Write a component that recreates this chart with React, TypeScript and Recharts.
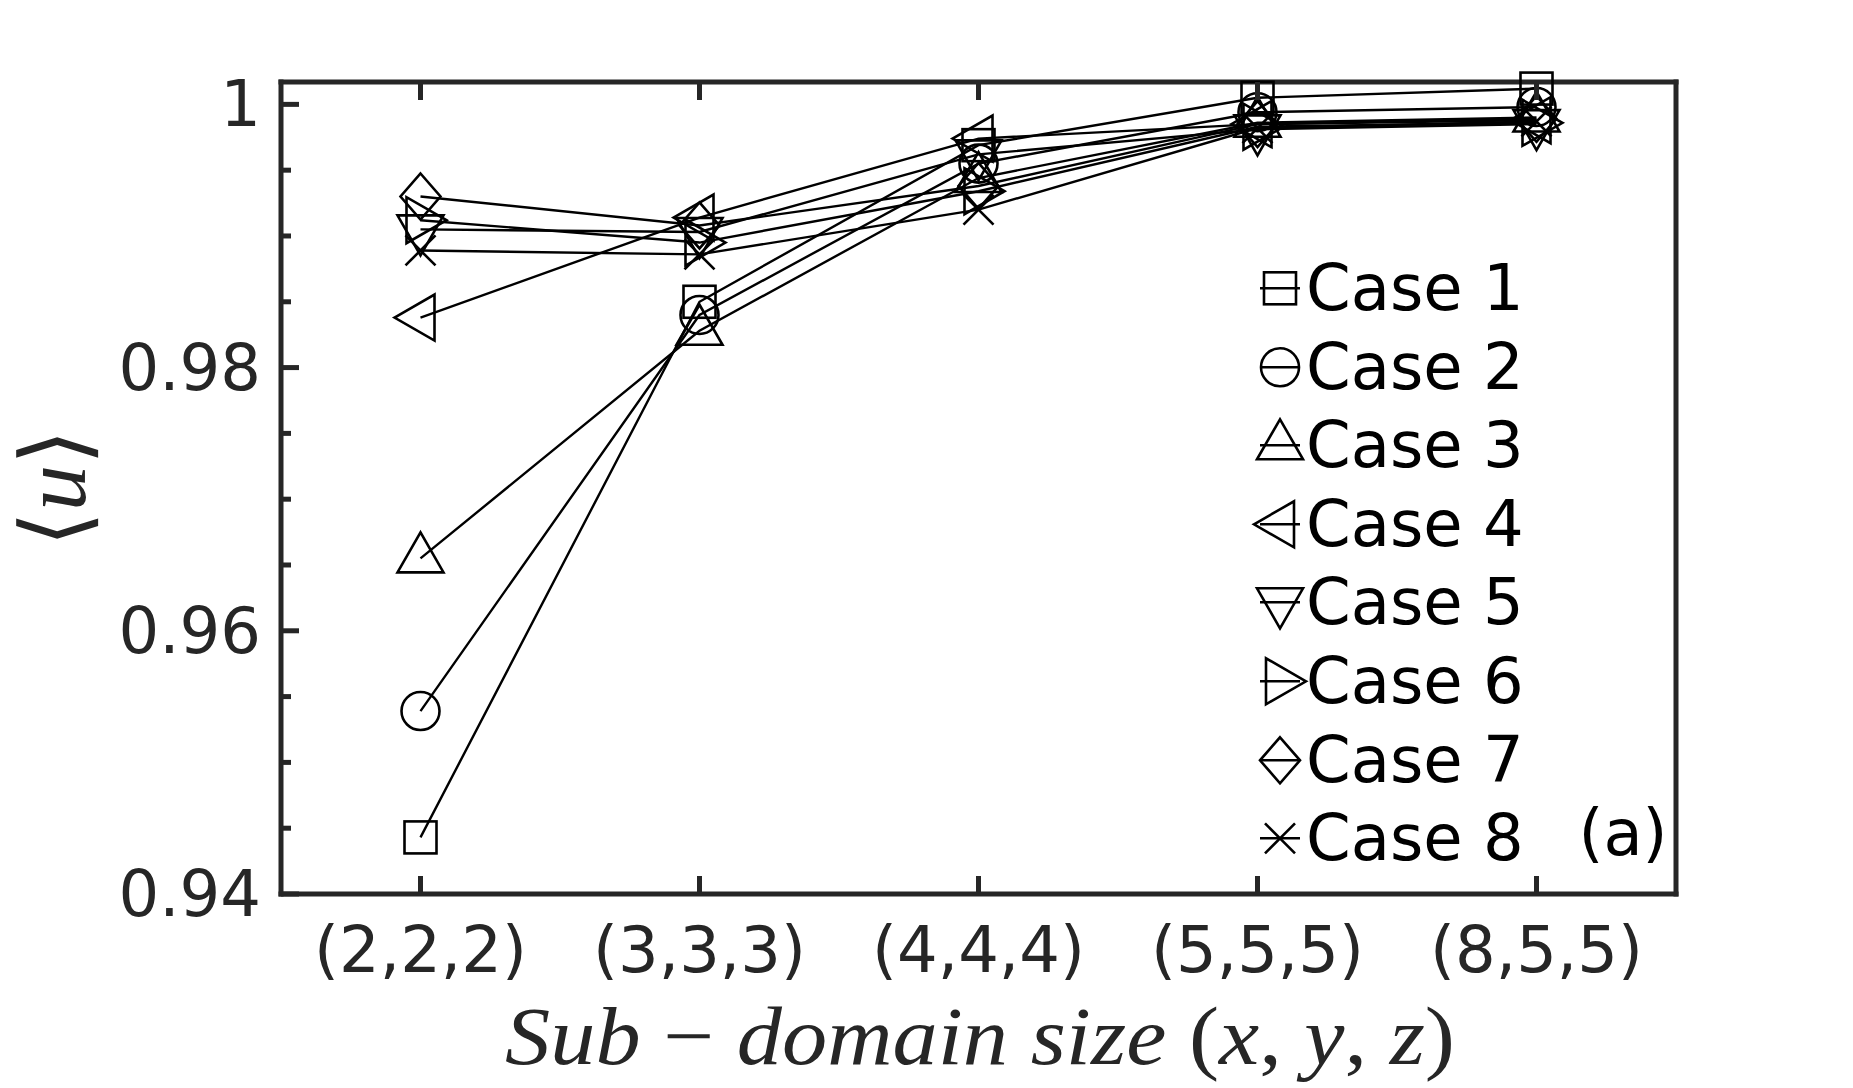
import React from 'react';
import { LineChart, Line, XAxis, YAxis, Legend } from 'recharts';

// sub-domain sizes on the x axis
const sizes = ['(2,2,2)', '(3,3,3)', '(4,4,4)', '(5,5,5)', '(8,5,5)'];

// <u> for each case
const case1 = [0.9443, 0.985, 0.9969, 1.0005, 1.0012];
const case2 = [0.9539, 0.984, 0.9955, 0.9994, 0.9998];
const case3 = [0.9655, 0.9828, 0.9944, 0.9986, 0.999];
const case4 = [0.9838, 0.9914, 0.9974, 0.9985, 0.9988];
const case5 = [0.9905, 0.9903, 0.9962, 0.9981, 0.9985];
const case6 = [0.9912, 0.9895, 0.9934, 0.9983, 0.9986];
const case7 = [0.993, 0.9908, 0.9938, 0.9985, 0.9989];
const case8 = [0.9889, 0.9886, 0.992, 0.9982, 0.9987];

const yTicks = [0.94, 0.945, 0.95, 0.955, 0.96, 0.965, 0.97, 0.975, 0.98, 0.985, 0.99, 0.995, 1.0];
const yMajor = [0.94, 0.96, 0.98, 1.0];

const series = [
  { key: 'c1', name: 'Case 1', values: case1, shape: 'square' },
  { key: 'c2', name: 'Case 2', values: case2, shape: 'circle' },
  { key: 'c3', name: 'Case 3', values: case3, shape: 'up' },
  { key: 'c4', name: 'Case 4', values: case4, shape: 'left' },
  { key: 'c5', name: 'Case 5', values: case5, shape: 'down' },
  { key: 'c6', name: 'Case 6', values: case6, shape: 'right' },
  { key: 'c7', name: 'Case 7', values: case7, shape: 'diamond' },
  { key: 'c8', name: 'Case 8', values: case8, shape: 'x' },
];

const data = sizes.map((size, i) => {
  const row: any = { size };
  series.forEach((s) => (row[s.key] = s.values[i]));
  return row;
});

const AXIS = '#262626';
const FONT = "'DejaVu Sans', sans-serif";
const axisLine = { stroke: AXIS, strokeWidth: 5, strokeLinecap: 'square' as const };

const isMajor = (v: number) => yMajor.some((m) => Math.abs(m - v) < 1e-9);
const fmt = (v: number) => (Math.abs(v - 1) < 1e-9 ? '1' : v.toFixed(2));

function Marker({ shape, cx, cy }: { shape: string; cx: number; cy: number }) {
  const s = { fill: 'none', stroke: '#000', strokeWidth: 2.6 };
  const pts = (p: number[][]) => p.map((q) => `${cx + q[0]},${cy + q[1]}`).join(' ');
  switch (shape) {
    case 'square':
      return <rect x={cx - 16} y={cy - 16} width={32} height={32} {...s} />;
    case 'circle':
      return <circle cx={cx} cy={cy} r={19} {...s} />;
    case 'up':
      return <polygon points={pts([[0, -26], [-23, 14], [23, 14]])} {...s} />;
    case 'down':
      return <polygon points={pts([[0, 26], [-23, -14], [23, -14]])} {...s} />;
    case 'left':
      return <polygon points={pts([[-26, 0], [14, -23], [14, 23]])} {...s} />;
    case 'right':
      return <polygon points={pts([[26, 0], [-14, -23], [-14, 23]])} {...s} />;
    case 'diamond':
      return <polygon points={pts([[0, -23], [20, 0], [0, 23], [-20, 0]])} {...s} />;
    default:
      return (
        <g {...s}>
          <line x1={cx - 15} y1={cy - 15} x2={cx + 15} y2={cy + 15} />
          <line x1={cx - 15} y1={cy + 15} x2={cx + 15} y2={cy - 15} />
        </g>
      );
  }
}

const LeftTick = (p: any) => {
  const v = p.payload.value;
  const major = isMajor(v);
  return (
    <g>
      <line x1={p.x} x2={p.x + (major ? 18 : 10)} y1={p.y} y2={p.y} stroke={AXIS} strokeWidth={5} />
      {major && (
        <text x={p.x - 20} y={p.y} textAnchor="end" dominantBaseline="central" fontFamily={FONT} fontSize={64} fill={AXIS}>
          {fmt(v)}
        </text>
      )}
    </g>
  );
};

const RightTick = (p: any) => {
  const major = isMajor(p.payload.value);
  return <line x1={p.x} x2={p.x - (major ? 18 : 10)} y1={p.y} y2={p.y} stroke={AXIS} strokeWidth={5} />;
};

const BottomTick = (p: any) => (
  <g>
    <line x1={p.x} x2={p.x} y1={p.y} y2={p.y - 18} stroke={AXIS} strokeWidth={5} />
    <text x={p.x} y={p.y + 56} textAnchor="middle" dominantBaseline="central" fontFamily={FONT} fontSize={64} fill={AXIS}>
      {p.payload.value}
    </text>
  </g>
);

const TopTick = (p: any) => <line x1={p.x} x2={p.x} y1={p.y} y2={p.y + 18} stroke={AXIS} strokeWidth={5} />;

const renderLegend = (props: any) => {
  const rows = props.payload || [];
  return (
    <div style={{ fontFamily: FONT, fontSize: 64, color: '#000' }}>
      {rows.map((r: any) => {
        const s = series.find((q) => q.key === r.dataKey);
        return (
          <div key={r.dataKey} style={{ display: 'flex', alignItems: 'center', height: 78.6 }}>
            <svg width={51} height={78.6} style={{ overflow: 'visible' }}>
              <line x1={5} x2={45} y1={39.3} y2={39.3} stroke="#000" strokeWidth={2.4} />
              <Marker shape={s ? s.shape : 'x'} cx={25} cy={39.3} />
            </svg>
            <span style={{ lineHeight: '78.6px', whiteSpace: 'nowrap' }}>{r.value}</span>
          </div>
        );
      })}
    </div>
  );
};

export default function App() {
  const pad = { left: 139.5, right: 139.5 };
  return (
    <div style={{ position: 'absolute', left: 0, top: 0, width: 1853, height: 1088, background: '#fff' }}>
      <LineChart width={1853} height={1088} data={data} margin={{ top: 81, right: 176, bottom: 193, left: 280 }}>
        <XAxis dataKey="size" height={1} padding={pad} interval={0} tickSize={0} tickMargin={0} tickLine={false} axisLine={axisLine} tick={BottomTick} />
        <XAxis xAxisId="top" dataKey="size" orientation="top" height={1} padding={pad} interval={0} tickSize={0} tickMargin={0} tickLine={false} axisLine={axisLine} tick={TopTick} />
        <YAxis type="number" domain={[0.94, 1.0017]} ticks={yTicks} interval={0} width={1} tickSize={0} tickMargin={0} tickLine={false} axisLine={axisLine} tick={LeftTick} />
        <YAxis yAxisId="right" orientation="right" type="number" domain={[0.94, 1.0017]} ticks={yTicks} interval={0} width={1} tickSize={0} tickMargin={0} tickLine={false} axisLine={axisLine} tick={RightTick} />
        {series.map((s) => (
          <Line
            key={s.key}
            dataKey={s.key}
            name={s.name}
            stroke="#000"
            strokeWidth={2.4}
            isAnimationActive={false}
            dot={(p: any) => <Marker key={`${s.key}-${p.index}`} shape={s.shape} cx={p.cx} cy={p.cy} />}
            activeDot={false}
          />
        ))}
        <Legend
          layout="vertical"
          align="center"
          verticalAlign="middle"
          content={renderLegend}
          wrapperStyle={{ left: 1255, top: 249, width: 420, height: 630 }}
        />
        <text x={1623} y={833} textAnchor="middle" dominantBaseline="central" fontFamily={FONT} fontSize={64} fill="#000">
          (a)
        </text>
        <text
          x={980}
          y={1064}
          textAnchor="middle"
          fontFamily="'Liberation Serif', serif"
          fontSize={83}
          fill={AXIS}
          textLength={950}
          lengthAdjust="spacingAndGlyphs"
        >
          <tspan fontStyle="italic">Sub</tspan>
          {' − '}
          <tspan fontStyle="italic">domain</tspan>
          {' '}
          <tspan fontStyle="italic">size</tspan>
          {' ('}
          <tspan fontStyle="italic">x</tspan>
          {', '}
          <tspan fontStyle="italic">y</tspan>
          {', '}
          <tspan fontStyle="italic">z</tspan>
          {')'}
        </text>
        <text
          transform="rotate(-90 54 488)"
          x={54}
          y={488}
          textAnchor="middle"
          dominantBaseline="central"
          fontSize={92}
          fill={AXIS}
        >
          <tspan fontFamily="'DejaVu Sans'" fontWeight={200}>⟨</tspan>
          <tspan fontFamily="'Liberation Serif', serif" fontStyle="italic">u</tspan>
          <tspan fontFamily="'DejaVu Sans'" fontWeight={200}>⟩</tspan>
        </text>
      </LineChart>
    </div>
  );
}
